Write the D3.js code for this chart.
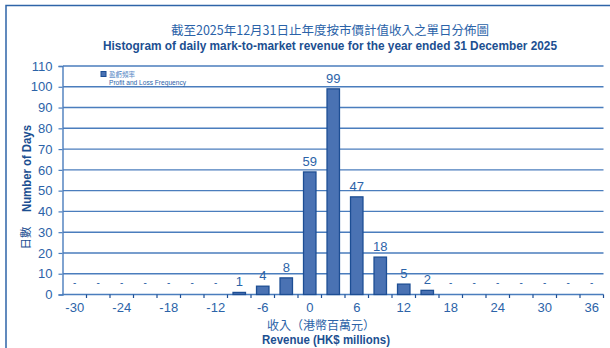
<!DOCTYPE html>
<html>
<head>
<meta charset="utf-8">
<script src="https://cdn.jsdelivr.net/npm/d3@7"></script>
<style>
  html, body { margin: 0; padding: 0; background: #fff; }
  svg { display: block; }
  text { font-family: "Liberation Sans", Arial, sans-serif; }
  .cjk { font-family: "Noto Sans CJK TC", "Noto Sans CJK SC", sans-serif; }
</style>
</head>
<body>
<svg id="chart" width="610" height="348"></svg>
<script>
// Revenue bins (HK$ millions), one per 3-million step
const categories = [-30, -27, -24, -21, -18, -15, -12, -9, -6, -3, 0, 3, 6, 9, 12, 15, 18, 21, 24, 27, 30, 33, 36];
// Number of trading days falling in each bin
const days = [0, 0, 0, 0, 0, 0, 0, 1, 4, 8, 59, 99, 47, 18, 5, 2, 0, 0, 0, 0, 0, 0, 0];
// Labels shown on the category axis
const xTickLabels = [-30, -24, -18, -12, -6, 0, 6, 12, 18, 24, 30, 36];
const yTicks = [0, 10, 20, 30, 40, 50, 60, 70, 80, 90, 100, 110];

const titleZh = "截至2025年12月31日止年度按市價計值收入之單日分佈圖";
const titleEn = "Histogram of daily mark-to-market revenue for the year ended 31 December 2025";
const xTitleZh = "收入（港幣百萬元）";
const xTitleEn = "Revenue (HK$ millions)";
const yTitleZh = "日數";
const yTitleEn = "Number of Days";
const legendZh = "盈虧頻率";
const legendEn = "Profit and Loss Frequency";

const blue = "#2c63a8";
const gridBlue = "#4a7dbd";
const barFill = "#4a72b3";
const barStroke = "#1d4e94";

const svg = d3.select("#chart");
const plot = { left: 63, right: 603.5, top: 66, bottom: 294.5 };

const x = d3.scaleBand()
  .domain(categories)
  .range([plot.left, plot.right])
  .paddingInner(0.47)
  .paddingOuter(0.235);

const y = d3.scaleLinear()
  .domain([0, 110])
  .range([plot.bottom, plot.top]);

// outer frame (left and top edges)
svg.append("path")
  .attr("d", "M6,348 V5.5 H610")
  .attr("fill", "none")
  .attr("stroke", "#2e64a8")
  .attr("stroke-width", 1.5);

// titles
svg.append("text").attr("class", "cjk")
  .attr("x", 330).attr("y", 34.5)
  .attr("text-anchor", "middle")
  .attr("font-size", 12.5)
  .attr("fill", "#2a62a8")
  .text(titleZh);

svg.append("text")
  .attr("x", 330).attr("y", 50)
  .attr("text-anchor", "middle")
  .attr("font-size", 12)
  .attr("font-weight", "bold")
  .attr("fill", "#1c4f91")
  .attr("textLength", 454)
  .attr("lengthAdjust", "spacingAndGlyphs")
  .text(titleEn);

// horizontal gridlines
svg.append("g")
  .selectAll("line")
  .data(yTicks.filter(d => d > 0))
  .join("line")
  .attr("x1", plot.left).attr("x2", plot.right)
  .attr("y1", d => y(d)).attr("y2", d => y(d))
  .attr("stroke", gridBlue)
  .attr("stroke-width", 1.4);

// y axis
const yAxis = d3.axisLeft(y).tickValues(yTicks).tickSize(4).tickPadding(6);
const gy = svg.append("g")
  .attr("transform", `translate(${plot.left - 0.5},0)`)
  .call(yAxis);
gy.select(".domain").attr("stroke", gridBlue).attr("stroke-width", 1.4);
gy.selectAll(".tick line").attr("stroke", gridBlue).attr("stroke-width", 1.2);
gy.selectAll(".tick text")
  .attr("font-size", 13)
  .attr("font-family", "Liberation Sans, Arial, sans-serif")
  .attr("fill", blue);

// x axis: ticks sit between categories, labels on every other bin
const step = x.step();
const boundaries = categories.slice(1).map(c => x(c) + x.bandwidth() / 2 - step / 2);
boundaries.push(plot.right);
const gx = svg.append("g");
gx.append("line")
  .attr("x1", plot.left - 1).attr("x2", plot.right)
  .attr("y1", plot.bottom).attr("y2", plot.bottom)
  .attr("stroke", gridBlue).attr("stroke-width", 1.6);
gx.selectAll("line.tick")
  .data(boundaries)
  .join("line").attr("class", "tick")
  .attr("x1", d => d).attr("x2", d => d)
  .attr("y1", plot.bottom).attr("y2", plot.bottom + 3.5)
  .attr("stroke", "#1d4e94").attr("stroke-width", 1.2);
gx.selectAll("text")
  .data(xTickLabels)
  .join("text")
  .attr("x", d => x(d) + x.bandwidth() / 2)
  .attr("y", 312)
  .attr("text-anchor", "middle")
  .attr("font-size", 13)
  .attr("fill", blue)
  .text(d => d);

// bars
const rows = categories.map((c, i) => ({ c, v: days[i] }));
svg.append("g")
  .selectAll("rect")
  .data(rows.filter(d => d.v > 0))
  .join("rect")
  .attr("x", d => x(d.c))
  .attr("y", d => y(d.v))
  .attr("width", x.bandwidth())
  .attr("height", d => y(0) - y(d.v))
  .attr("fill", barFill)
  .attr("stroke", barStroke)
  .attr("stroke-width", 1.3);

// value labels; empty bins show a dash
svg.append("g")
  .selectAll("text")
  .data(rows)
  .join("text")
  .attr("x", d => x(d.c) + x.bandwidth() / 2)
  .attr("y", d => d.v > 0 ? y(d.v) - 6 : y(0) - 9)
  .attr("text-anchor", "middle")
  .attr("font-size", d => d.v > 0 ? 13 : 10)
  .attr("fill", blue)
  .text(d => d.v > 0 ? d.v : "-");

// legend
svg.append("rect")
  .attr("x", 101).attr("y", 71.5)
  .attr("width", 5).attr("height", 5)
  .attr("fill", barFill).attr("stroke", barStroke).attr("stroke-width", 1);
svg.append("text").attr("class", "cjk")
  .attr("x", 109).attr("y", 77)
  .attr("font-size", 6.5)
  .attr("fill", "#5b8bc7")
  .text(legendZh);
svg.append("text")
  .attr("x", 109).attr("y", 84.5)
  .attr("font-size", 7)
  .attr("fill", blue)
  .attr("textLength", 77)
  .attr("lengthAdjust", "spacingAndGlyphs")
  .text(legendEn);

// axis titles
svg.append("text").attr("class", "cjk")
  .attr("x", 321).attr("y", 330)
  .attr("text-anchor", "middle")
  .attr("font-size", 12)
  .attr("fill", blue)
  .text(xTitleZh);
svg.append("text")
  .attr("x", 326).attr("y", 344)
  .attr("text-anchor", "middle")
  .attr("font-size", 12)
  .attr("font-weight", "bold")
  .attr("fill", "#1c4f91")
  .attr("textLength", 128)
  .attr("lengthAdjust", "spacingAndGlyphs")
  .text(xTitleEn);

svg.append("text")
  .attr("transform", "translate(31,168.5) rotate(-90)")
  .attr("text-anchor", "middle")
  .attr("font-size", 12)
  .attr("font-weight", "bold")
  .attr("fill", "#1c4f91")
  .attr("textLength", 87)
  .attr("lengthAdjust", "spacingAndGlyphs")
  .text(yTitleEn);
svg.append("text").attr("class", "cjk")
  .attr("transform", "translate(30,238) rotate(-90)")
  .attr("text-anchor", "middle")
  .attr("font-size", 11.5)
  .attr("fill", "#1c4f91")
  .text(yTitleZh);
</script>
</body>
</html>
